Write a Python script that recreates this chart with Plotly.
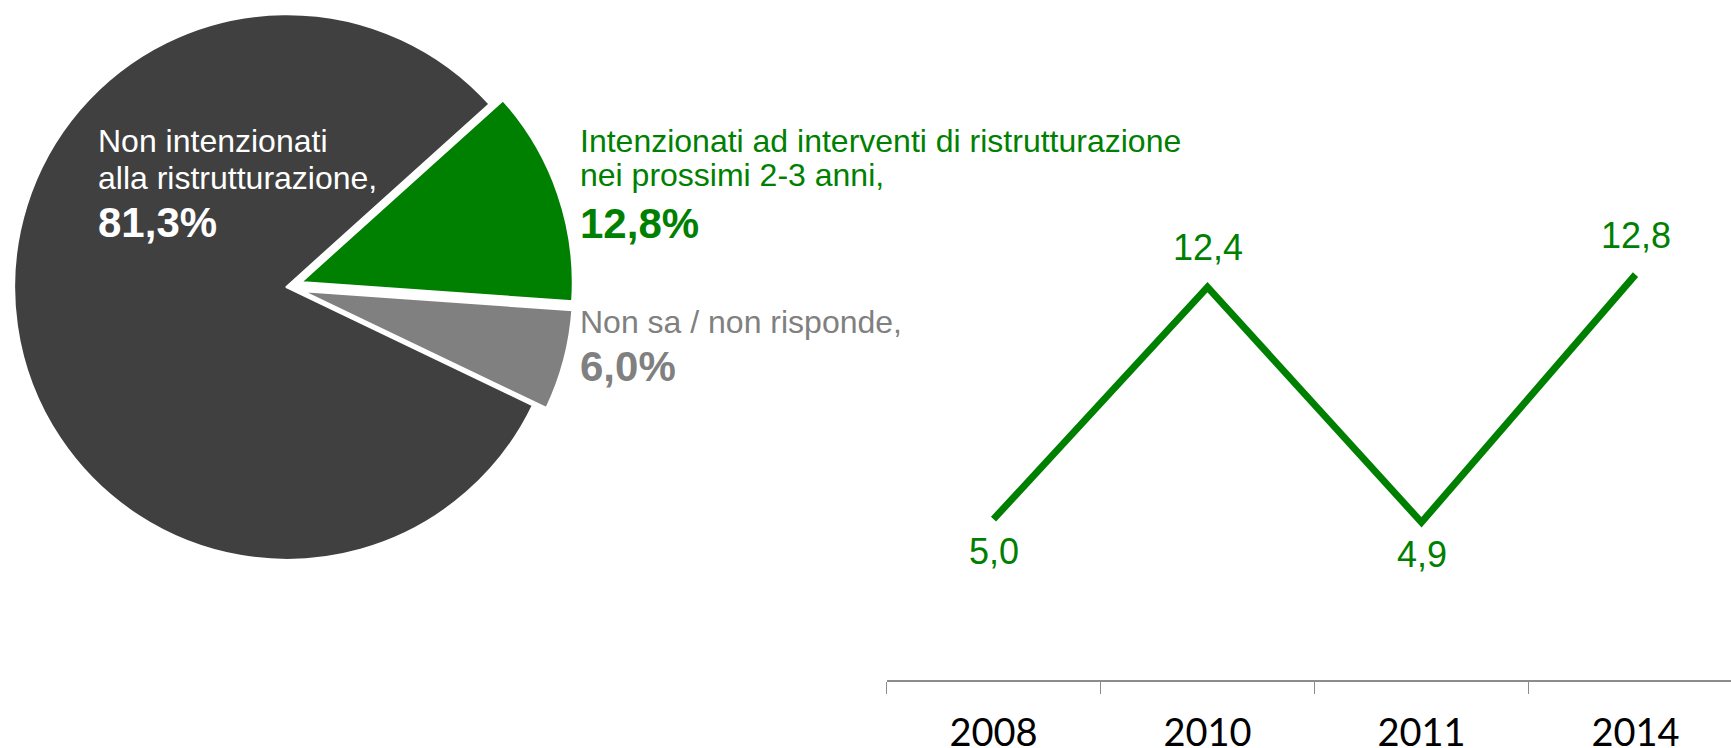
import plotly.graph_objects as go

W, H = 1731, 748

# ---- data ----
pie_labels = ["Intenzionati ad interventi di ristrutturazione nei prossimi 2-3 anni",
              "Non sa / non risponde",
              "Non intenzionati alla ristrutturazione"]
pie_values = [12.8, 6.0, 81.3]
pie_colors = ["#008000", "#808080", "#404040"]
pie_pull = [0.05, 0.05, 0.0]

years = ["2008", "2010", "2011", "2014"]
trend_values = [5.0, 12.4, 4.9, 12.8]

label_lines = {
    0: ["Intenzionati ad interventi di ristrutturazione", "nei prossimi 2-3 anni,"],
    1: ["Non sa / non risponde,"],
    2: ["Non intenzionati", "alla ristrutturazione,"],
}


def px(x):
    return x / W


def py(y):
    return 1 - y / H


def fmt(v):
    return f"{v:.1f}".replace(".", ",")


FONT = "Liberation Sans, Arial, sans-serif"

fig = go.Figure()

fig.add_trace(go.Pie(
    labels=pie_labels, values=pie_values, sort=False, direction="clockwise",
    rotation=48, pull=pie_pull, textinfo="none", hoverinfo="skip",
    marker=dict(colors=pie_colors, line=dict(color="white", width=3)),
    domain=dict(x=[0, 574 / W], y=[(H - 574) / H, 1]),
    showlegend=False,
))

fig.add_trace(go.Scatter(
    x=list(range(len(years))), y=trend_values, mode="lines",
    line=dict(color="#008000", width=7), hoverinfo="skip", showlegend=False,
))

ann = []
pos = {
    2: (96, [140.6, 177.9], 222.5, "white"),
    0: (578, [140.6, 174.9], 223.5, "#008000"),
    1: (578, [321.9], 366.5, "#808080"),
}
for i, (x0, ys, yb, col) in pos.items():
    for line, yy in zip(label_lines[i], ys):
        ann.append(dict(x=px(x0), y=py(yy), xref="paper", yref="paper", text=line,
                        xanchor="left", yanchor="middle", showarrow=False,
                        font=dict(family=FONT, size=32, color=col)))
    ann.append(dict(x=px(x0), y=py(yb), xref="paper", yref="paper",
                    text=f"<b>{fmt(pie_values[i])}%</b>",
                    xanchor="left", yanchor="middle", showarrow=False,
                    font=dict(family=FONT, size=42, color=col)))

for i, v in enumerate(trend_values):
    up = i in (1, 3)
    ann.append(dict(x=i, y=v, xref="x", yref="y", text=fmt(v), showarrow=False,
                    xanchor="center", yanchor="middle", yshift=39.5 if up else -32,
                    font=dict(family=FONT, size=36, color="#008000")))

x0_pix = 886.5
step = 214.0
xmax = -0.5 + (W - x0_pix) / step
y0_pix = 680.0
unit = 31.35
ymin = -0.13
ymax = 13.5
ytop_pix = y0_pix - (ymax - ymin) * unit

fig.update_layout(
    width=W, height=H, autosize=False,
    margin=dict(l=0, r=0, t=0, b=0, pad=0, autoexpand=False),
    paper_bgcolor="white", plot_bgcolor="white",
    annotations=ann,
    xaxis=dict(domain=[x0_pix / W, 1], range=[-0.5, xmax], automargin=False,
               tickmode="array", tickvals=list(range(len(years))), ticktext=years,
               ticks="", showline=True, linecolor="#8c8c8c", linewidth=1.5,
               showgrid=False, zeroline=False, ticklabelstandoff=19,
               tickfont=dict(family="Lato, sans-serif", size=38, color="black")),
    yaxis=dict(domain=[(H - y0_pix) / H, (H - ytop_pix) / H], range=[ymin, ymax],
               automargin=False, visible=False, showgrid=False, zeroline=False),
)

fig.update_xaxes(minor=dict(tickmode="array", tickvals=[i - 0.5 for i in range(len(years))],
                            ticks="outside", ticklen=12, tickwidth=1.5, tickcolor="#8c8c8c"))

fig.write_html("out.html",
               config={"responsive": False, "displayModeBar": False, "staticPlot": True},
               post_script="document.body.style.margin='0px';")
